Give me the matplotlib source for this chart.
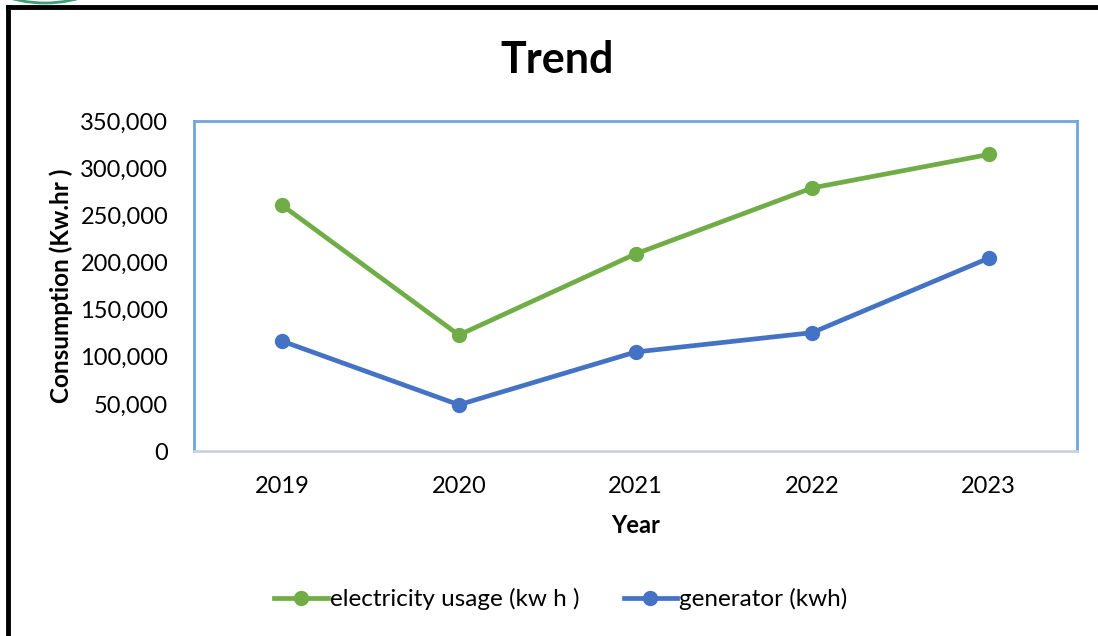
import matplotlib
matplotlib.use("Agg")
import matplotlib.pyplot as plt
from matplotlib.lines import Line2D
from matplotlib.patches import Circle
from matplotlib.ticker import FuncFormatter

years = ["2019", "2020", "2021", "2022", "2023"]
electricity = [260500, 123000, 209000, 279000, 314500]
generator = [116500, 49000, 105000, 125500, 204500]
yticks = [0, 50000, 100000, 150000, 200000, 250000, 300000, 350000]

W, H = 1098, 636
plt.rcParams['font.family'] = ['Lato', 'DejaVu Sans']

fig = plt.figure(figsize=(W / 100, H / 100), dpi=100)
ax = fig.add_axes([194 / W, 1 - 451 / H, (1077 - 194) / W, (451 - 121) / H])

x = range(len(years))
ax.plot(x, electricity, color="#70AD47", lw=3.4, marker="o", ms=10,
        label="electricity usage (kw h )")
ax.plot(x, generator, color="#4472C4", lw=3.4, marker="o", ms=10,
        label="generator (kwh)")

ax.set_xlim(-0.5, len(years) - 0.5)
ax.set_ylim(0, 350000)
ax.set_xticks(list(x))
ax.set_xticklabels(years)
ax.set_yticks(yticks)
ax.yaxis.set_major_formatter(FuncFormatter(lambda v, p: f"{int(v):,}"))
ax.tick_params(length=0, labelsize=17)
ax.tick_params(axis="y", pad=18.5)
ax.tick_params(axis="x", pad=18)

for s in ["left", "right", "top"]:
    ax.spines[s].set_color("#6FA6DC")
    ax.spines[s].set_linewidth(2)
ax.spines["bottom"].set_color("#C9D3E0")
ax.spines["bottom"].set_linewidth(2)

ax.set_xlabel("Year", fontsize=17, fontweight="bold", labelpad=12)
ax.set_ylabel("Consumption (Kw.hr )", fontsize=17.5, fontweight="bold", labelpad=5)
fig.text(557 / W, 1 - 60 / H, "Trend", fontsize=31, fontweight="bold",
         ha="center", va="center")

fig.legend(loc="center", bbox_to_anchor=(561 / W, 1 - 599 / H), ncol=2,
           frameon=False, fontsize=17.5, handlelength=2.2, handletextpad=0.1,
           columnspacing=1.8)

# outer black frame (left and top)
fig.add_artist(Line2D([8 / W, 8 / W], [0, 1 - 7 / H], color="black", lw=3.5,
                      transform=fig.transFigure))
fig.add_artist(Line2D([8 / W, 1], [1 - 7 / H, 1 - 7 / H], color="black", lw=3.5,
                      transform=fig.transFigure))
# bit of green logo ring at top-left corner
fig.add_artist(Circle((45, H - 3 + 125), 125, transform=None, fill=False,
                      edgecolor="#3E9E73", lw=2))

fig.savefig("out.png", dpi=100)
